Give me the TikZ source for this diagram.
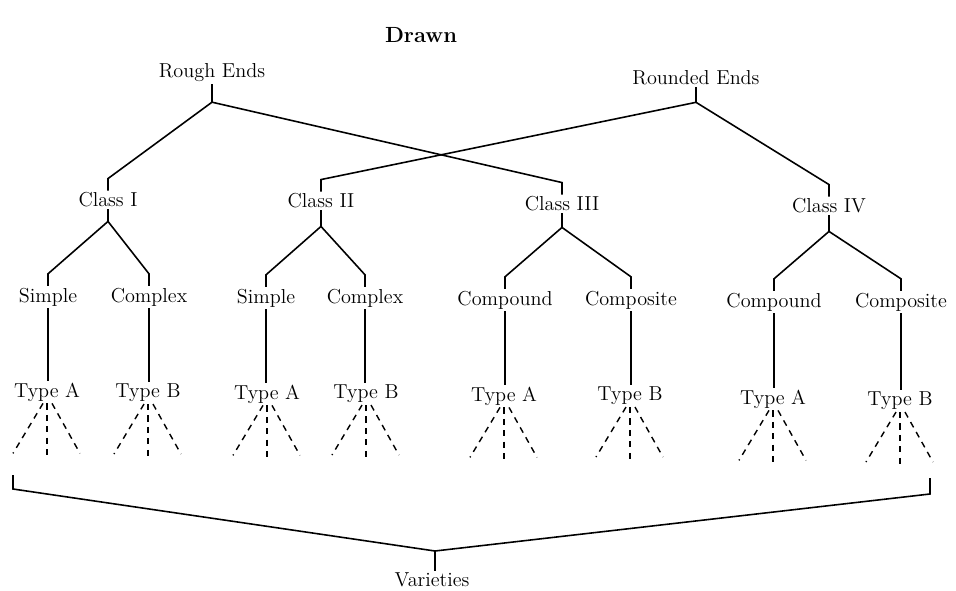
\documentclass[tikz,border=0pt]{standalone}
\usetikzlibrary{calc}
\tikzset{
	lbl/.style={font=\fontsize{11.5}{13}\selectfont, inner sep=1pt},
	link/.style={line width=0.9pt},
	spread/.style={line width=0.8pt, dash pattern=on 3.5pt off 3pt},
}
\def\branch(#1)(#2){\draw[link] (#1) -- ($(#2.north)+(0,-12)$) -- (#2.north);}
\def\stem(#1)(#2){\draw[link] (#1.south) -- (#1.south |- #2.north);}
\def\fan(#1){%
	\draw[spread] ($(#1.south)+(-4,0)$) -- ++(-30,50);
	\draw[spread] ($(#1.south)+(0,0)$) -- ++(0,52);
	\draw[spread] ($(#1.south)+(5,0)$) -- ++(28,50);
}

\begin{document}
\begin{tikzpicture}[x=0.02cm, y=-0.02cm]
		%%%%% START %%%%%
		\useasboundingbox (0, 0) rectangle (956, 591);
		
		\node[font=\bfseries\fontsize{12.5}{14}\selectfont] (title) at (421, 35) {Drawn};
		
		\node[lbl] (rough) at (212, 73) {Rough Ends};
		\node[lbl] (rounded) at (696, 78) {Rounded Ends};
		
		\node[lbl] (c1) at (108, 200) {Class I};
		\node[lbl] (c2) at (321, 201) {Class II};
		\node[lbl] (c3) at (562, 204) {Class III};
		\node[lbl] (c4) at (829, 206) {Class IV};
		
		\node[lbl] (s1) at (48, 297) {Simple};
		\node[lbl] (x1) at (149, 297) {Complex};
		\node[lbl] (s2) at (266, 298) {Simple};
		\node[lbl] (x2) at (365, 298) {Complex};
		\node[lbl] (p3) at (505, 300) {Compound};
		\node[lbl] (q3) at (631, 300) {Composite};
		\node[lbl] (p4) at (774, 302) {Compound};
		\node[lbl] (q4) at (901, 302) {Composite};
		
		\node[lbl] (ta1) at (47, 392) {Type A};
		\node[lbl] (tb1) at (148, 393) {Type B};
		\node[lbl] (ta2) at (267, 394) {Type A};
		\node[lbl] (tb2) at (366, 394) {Type B};
		\node[lbl] (ta3) at (504, 396) {Type A};
		\node[lbl] (tb3) at (630, 396) {Type B};
		\node[lbl] (ta4) at (773, 399) {Type A};
		\node[lbl] (tb4) at (900, 401) {Type B};
		
		\node[lbl] (var) at (432, 580) {Varieties};
		
		% junctions under the labels
		\coordinate (jr) at ($(rough.south)+(0,18)$);
		\coordinate (jd) at ($(rounded.south)+(0,15)$);
		\draw[link] (rough.south) -- (jr);
		\draw[link] (rounded.south) -- (jd);
		\branch(jr)(c1);
		\branch(jr)(c3);
		\branch(jd)(c2);
		\branch(jd)(c4);
		
		\coordinate (j1) at ($(c1.south)+(0,12)$);
		\coordinate (j2) at ($(c2.south)+(0,16)$);
		\coordinate (j3) at ($(c3.south)+(0,14)$);
		\coordinate (j4) at ($(c4.south)+(0,16)$);
		\draw[link] (c1.south) -- (j1);
		\draw[link] (c2.south) -- (j2);
		\draw[link] (c3.south) -- (j3);
		\draw[link] (c4.south) -- (j4);
		\branch(j1)(s1);
		\branch(j1)(x1);
		\branch(j2)(s2);
		\branch(j2)(x2);
		\branch(j3)(p3);
		\branch(j3)(q3);
		\branch(j4)(p4);
		\branch(j4)(q4);
		
		\stem(s1)(ta1);
		\stem(x1)(tb1);
		\stem(s2)(ta2);
		\stem(x2)(tb2);
		\stem(p3)(ta3);
		\stem(q3)(tb3);
		\stem(p4)(ta4);
		\stem(q4)(tb4);
		
		\fan(ta1) \fan(tb1) \fan(ta2) \fan(tb2)
		\fan(ta3) \fan(tb3) \fan(ta4) \fan(tb4)
		
		% bracket
		\coordinate (bl) at (13, 475);
		\coordinate (br) at (930, 478);
		\coordinate (bj) at (435, 551);
		\draw[link] (bl) -- (13, 489) -- (bj) -- (930, 494) -- (br);
		\draw[link] (bj) -- (var.north -| bj);
		
		%%%%% END %%%%%
	\end{tikzpicture}
\end{document}
